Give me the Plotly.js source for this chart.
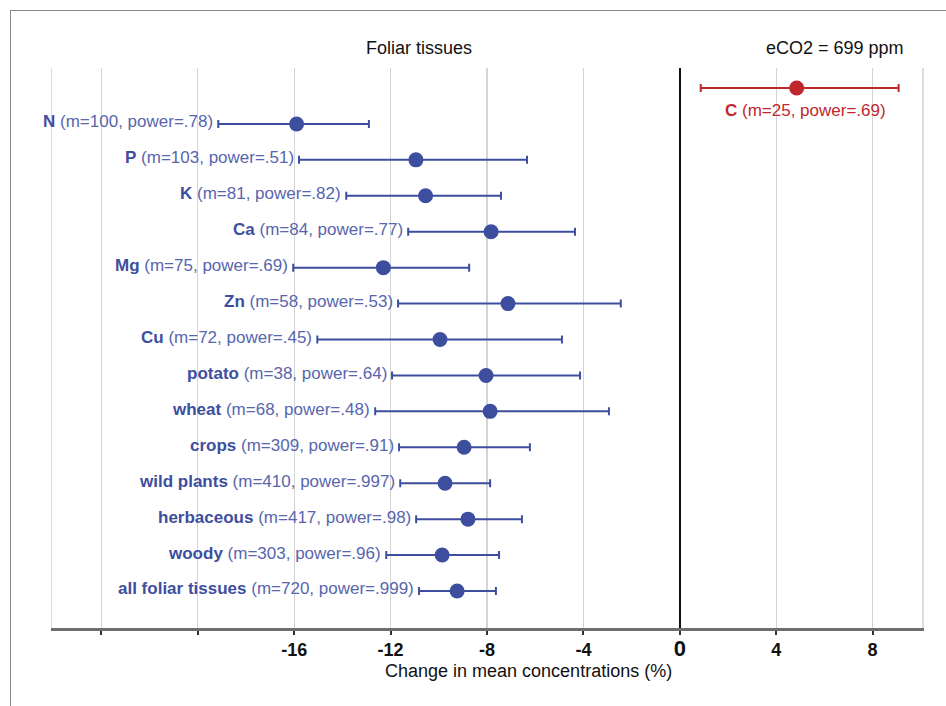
<!DOCTYPE html>
<html>
<head>
<meta charset="utf-8">
<script src="https://cdn.plot.ly/plotly-3.0.1.min.js"></script>
<style>
html,body{margin:0;padding:0;background:#fff;}
#chart{width:946px;height:706px;}
#frame{position:absolute;left:10px;top:10px;width:960px;height:720px;border-left:1px solid #8a8a8a;border-top:1px solid #8a8a8a;pointer-events:none;}
</style>
</head>
<body>
<div id="chart"></div>
<div id="frame"></div>
<script>
// Data
const names  = ["C","N","P","K","Ca","Mg","Zn","Cu","potato","wheat","crops","wild plants","herbaceous","woody","all foliar tissues"];
const mValues = [25,100,103,81,84,75,58,72,38,68,309,410,417,303,720];
const powers = [".69",".78",".51",".82",".77",".69",".53",".45",".64",".48",".91",".997",".98",".96",".999"];
const means  = [4.85,-15.9,-10.95,-10.55,-7.83,-12.3,-7.13,-9.95,-8.04,-7.87,-8.95,-9.74,-8.79,-9.86,-9.24];
const lows   = [0.87,-19.15,-15.8,-13.84,-11.27,-16.04,-11.69,-15.04,-11.94,-12.64,-11.65,-11.6,-10.94,-12.18,-10.82];
const highs  = [9.08,-12.9,-6.34,-7.42,-4.35,-8.74,-2.45,-4.89,-4.14,-2.94,-6.22,-7.87,-6.55,-7.5,-7.63];
const tickVals = [-24,-20,-16,-12,-8,-4,0,4,8];
const tickLabels = ["","","-16","-12","-8","-4","0","4","8"];

const blue = "#3e4e9f", blueLight = "#5866ad", red = "#c0272d";
const rows = names.map((_, i) => i);

const isC = names.map(n => n === "C");
function subset(flag) {
  const idx = rows.filter(i => isC[i] === flag);
  return {
    x: idx.map(i => means[i]),
    y: idx.map(i => rows[i]),
    plus: idx.map(i => highs[i] - means[i]),
    minus: idx.map(i => means[i] - lows[i])
  };
}
const b = subset(false), r = subset(true);

const traces = [
  {type:"scatter", mode:"markers", x:b.x, y:b.y,
   marker:{color:blue, size:15},
   error_x:{type:"data", symmetric:false, array:b.plus, arrayminus:b.minus, color:blue, thickness:2, width:4},
   hoverinfo:"skip", showlegend:false},
  {type:"scatter", mode:"markers", x:r.x, y:r.y,
   marker:{color:red, size:15},
   error_x:{type:"data", symmetric:false, array:r.plus, arrayminus:r.minus, color:red, thickness:2, width:4},
   hoverinfo:"skip", showlegend:false}
];

const FAM = "Liberation Sans, Arial, sans-serif";
const annotations = [];
rows.forEach(i => {
  const label = "<b>" + names[i] + "</b>" + " <span style='color:" + (isC[i] ? red : blueLight) + "'>(m=" + mValues[i] + ", power=" + powers[i] + ")</span>";
  if (isC[i]) {
    annotations.push({x: means[i], y: rows[i], xref:"x", yref:"y", text: label, showarrow:false,
      xanchor:"center", yanchor:"middle", xshift:9, yshift:-22, font:{color:red, size:17, family:FAM}});
  } else {
    annotations.push({x: lows[i], y: rows[i], xref:"x", yref:"y", text: label, showarrow:false,
      xanchor:"right", yanchor:"middle", xshift:-3, yshift:2, font:{color:blue, size:17, family:FAM}});
  }
});
annotations.push({x:0.422, y:48, xref:"paper", yref:"paper", text:"Foliar tissues", showarrow:false});
annotations.push({x:0.9, y:48, xref:"paper", yref:"paper", text:"eCO2 = 699 ppm", showarrow:false});
annotations.push({x:0.548, y:671, xref:"paper", yref:"paper", text:"Change in mean concentrations (%)", showarrow:false});

// convert pixel-y paper annotations
const H = 706, T = 68, B = 78, L = 52, R = 24;
annotations.forEach(a => {
  if (a.yref === "paper") {
    a.y = (H - B - a.y) / (H - T - B);
    a.yanchor = "middle"; a.xanchor = "center";
    a.font = {size:18, color:"#111", family:FAM};
  }
});

const layout = {
  width:946, height:706,
  margin:{l:L, r:R, t:T, b:B},
  paper_bgcolor:"#fff", plot_bgcolor:"#fff",
  font:{family:FAM, size:16, color:"#111"},
  xaxis:{range:[-26.05, 10.05], tickvals:tickVals,
    ticktext:tickLabels.map(t => t === "0" ? "<b><span style='font-size:22px'>0</span></b>" : "<b>" + t + "</b>"),
    showgrid:true, gridcolor:"#d4d4d4", gridwidth:1.2,
    zeroline:true, zerolinecolor:"#111", zerolinewidth:1.5,
    showline:true, linecolor:"#6e6e6e", linewidth:2.5,
    ticks:"outside", ticklen:4, tickcolor:"#333", tickwidth:2,
    tickfont:{size:18, color:"#111"}, fixedrange:true},
  yaxis:{range:[15.03, -0.557], showticklabels:false, showgrid:false, zeroline:false,
    showline:true, mirror:true, linecolor:"#dcdcdc", linewidth:1.5, ticks:"", fixedrange:true},
  annotations:annotations
};

Plotly.newPlot("chart", traces, layout, {displayModeBar:false, staticPlot:true});
</script>
</body>
</html>
